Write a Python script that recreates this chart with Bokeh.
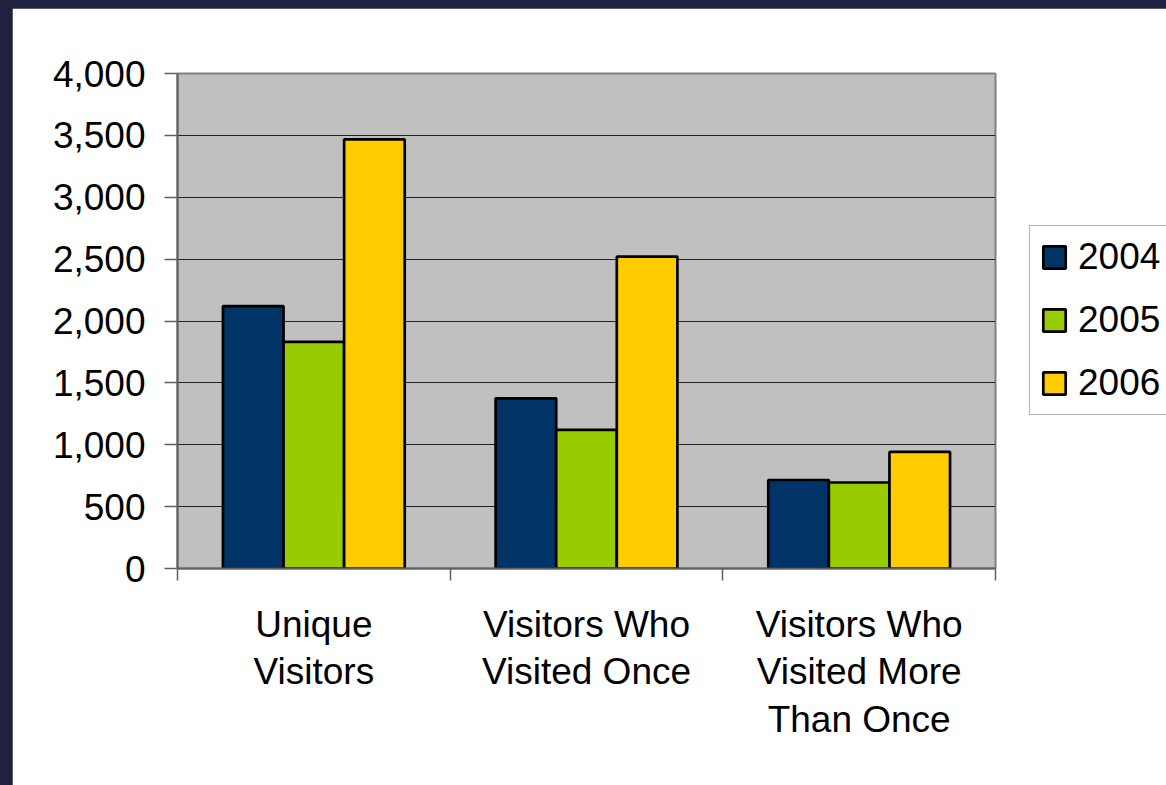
import numpy as np
from bokeh.plotting import figure
from bokeh.models import (ColumnDataSource, FixedTicker, NumeralTickFormatter, Legend,
                          LegendItem, Range1d, GlobalInlineStyleSheet)
from bokeh.transform import dodge
from bokeh.embed import file_html
from bokeh.resources import INLINE

# ---------------- data ----------------
categories = ["Unique Visitors", "Visitors Who Visited Once", "Visitors Who Visited More Than Once"]
category_labels = ["Unique\nVisitors", "Visitors Who\nVisited Once", "Visitors Who\nVisited More\nThan Once"]
years = ["2004", "2005", "2006"]
values_2004 = [2120, 1375, 715]
values_2005 = [1832, 1120, 695]
values_2006 = [3467, 2520, 942]
y_ticks = [0, 500, 1000, 1500, 2000, 2500, 3000, 3500, 4000]
colors = ["#003366", "#99CC00", "#FFCC00"]

FONT = "Liberation Sans"
FS = "37px"

centers = list(np.arange(len(categories)) + 0.5)
source = ColumnDataSource(dict(x=centers, v2004=values_2004, v2005=values_2005, v2006=values_2006))

p = figure(frame_width=818, frame_height=495,
           x_range=Range1d(0, len(categories)), y_range=Range1d(0, 4000),
           output_backend="svg", toolbar_location=None,
           min_border_left=165, min_border_right=0, min_border_top=65, min_border_bottom=217,
           background_fill_color="#C0C0C0", border_fill_color="white",
           outline_line_color="#808080", outline_line_width=2)

p.stylesheets = [GlobalInlineStyleSheet(
    css="html,body{margin:0;padding:0;overflow:hidden;}"
        "body{background:#20203F;padding:8px 0 0 12px;}")]

bar_w = 1 / 4.5
offsets = [-bar_w, 0, bar_w]
items = []
for yr, off, col in zip(years, offsets, colors):
    r = p.vbar(x=dodge("x", off, range=p.x_range), top="v" + yr, width=bar_w, source=source,
               fill_color=col, line_color="black", line_width=2.7)
    items.append(LegendItem(label=yr, renderers=[r]))

# y axis
p.yaxis.ticker = FixedTicker(ticks=y_ticks)
p.yaxis.formatter = NumeralTickFormatter(format="0,0")
p.yaxis.major_label_text_font = FONT
p.yaxis.major_label_text_font_size = FS
p.yaxis.major_label_text_color = "black"
p.yaxis.major_tick_out = 13
p.yaxis.major_tick_in = 0
p.yaxis.minor_tick_line_color = None
p.yaxis.major_label_standoff = 19
p.yaxis.axis_line_color = "#606060"
p.yaxis.axis_line_width = 2
p.yaxis.major_tick_line_color = "#606060"
p.yaxis.major_tick_line_width = 1.5

# x axis
p.xaxis.ticker = FixedTicker(ticks=centers, minor_ticks=list(range(len(categories) + 1)))
p.xaxis.major_label_overrides = {c: lab for c, lab in zip(centers, category_labels)}
p.xaxis.major_label_text_font = FONT
p.xaxis.major_label_text_font_size = FS
p.xaxis.major_label_text_color = "black"
p.xaxis.major_label_text_line_height = 1.17
p.xaxis.major_tick_line_color = None
p.xaxis.major_tick_out = 0
p.xaxis.major_tick_in = 0
p.xaxis.major_label_standoff = 23
p.xaxis.minor_tick_out = 12
p.xaxis.minor_tick_in = 0
p.xaxis.minor_tick_line_color = "#606060"
p.xaxis.minor_tick_line_width = 1.5
p.xaxis.axis_line_color = "#606060"
p.xaxis.axis_line_width = 2

# grid
p.xgrid.visible = False
p.ygrid.grid_line_color = "#222222"
p.ygrid.grid_line_width = 1

legend = Legend(items=items, location=(34, 153),
                label_text_font=FONT, label_text_font_size=FS, label_text_color="black",
                glyph_width=28, glyph_height=28, label_standoff=10,
                padding=10, spacing=21, margin=0,
                border_line_color="#666666", border_line_width=1.5,
                background_fill_color="white", background_fill_alpha=1.0)
p.add_layout(legend, "right")

open("out.html", "w").write(file_html(p, INLINE))
